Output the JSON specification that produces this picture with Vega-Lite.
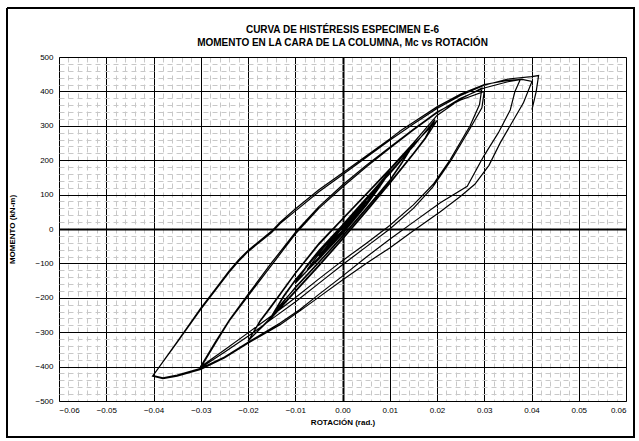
{
  "$schema": "https://vega.github.io/schema/vega-lite/v6.json",
  "width": 567,
  "height": 344,
  "autosize": "none",
  "padding": {"left": 59, "top": 57, "right": 13, "bottom": 40},
  "background": "white",
  "config": {"view": {"stroke": "#808080", "strokeWidth": 1}, "font": "Liberation Sans"},
  "title": {
    "text": ["CURVA DE HISTÉRESIS ESPECIMEN E-6", "MOMENTO EN LA CARA DE LA COLUMNA,  Mc vs ROTACIÓN"],
    "font": "Liberation Sans", "fontSize": 10, "fontWeight": "bold", "color": "black",
    "offset": -40, "lineHeight": 13, "anchor": "middle"
  },
  "data": {"values": [
    {"i":1,"x":0,"y":0},{"i":2,"x":0.0025,"y":38},{"i":3,"x":0.005,"y":78},{"i":4,"x":0.0025,"y":33},{"i":5,"x":0,"y":-6},{"i":6,"x":-0.0025,"y":-42},{"i":7,"x":-0.005,"y":-80},{"i":8,"x":-0.0025,"y":-38},{"i":9,"x":0,"y":4},
    {"i":10,"x":0.0025,"y":40},{"i":11,"x":0.005,"y":82},{"i":12,"x":0.0025,"y":35},{"i":13,"x":0,"y":-4},{"i":14,"x":-0.0025,"y":-40},{"i":15,"x":-0.005,"y":-78},{"i":16,"x":-0.0025,"y":-36},{"i":17,"x":0,"y":6},
    {"i":18,"x":0.004,"y":68},{"i":19,"x":0.0075,"y":122},{"i":20,"x":0.004,"y":58},{"i":21,"x":0,"y":-10},{"i":22,"x":-0.004,"y":-68},{"i":23,"x":-0.0075,"y":-118},{"i":24,"x":-0.004,"y":-55},{"i":25,"x":0,"y":8},
    {"i":26,"x":0.005,"y":85},{"i":27,"x":0.010,"y":165},{"i":28,"x":0.0075,"y":115},{"i":29,"x":0.005,"y":68},{"i":30,"x":0,"y":-14},{"i":31,"x":-0.005,"y":-88},{"i":32,"x":-0.010,"y":-155},{"i":33,"x":-0.0075,"y":-105},{"i":34,"x":-0.005,"y":-62},{"i":35,"x":0,"y":12},
    {"i":36,"x":0.005,"y":88},{"i":37,"x":0.010,"y":168},{"i":38,"x":0.0075,"y":118},{"i":39,"x":0.005,"y":70},{"i":40,"x":0,"y":-12},{"i":41,"x":-0.005,"y":-86},{"i":42,"x":-0.010,"y":-158},{"i":43,"x":-0.0075,"y":-108},{"i":44,"x":-0.005,"y":-64},{"i":45,"x":0,"y":10},
    {"i":46,"x":0.005,"y":88},{"i":47,"x":0.010,"y":160},{"i":48,"x":0.0125,"y":200},{"i":49,"x":0.015,"y":245},{"i":50,"x":0.0125,"y":190},{"i":51,"x":0.010,"y":140},{"i":52,"x":0.005,"y":58},{"i":53,"x":0,"y":-22},{"i":54,"x":-0.005,"y":-98},{"i":55,"x":-0.010,"y":-172},{"i":56,"x":-0.0125,"y":-210},{"i":57,"x":-0.015,"y":-252},{"i":58,"x":-0.0125,"y":-195},{"i":59,"x":-0.010,"y":-148},{"i":60,"x":-0.005,"y":-66},{"i":61,"x":0,"y":12},
    {"i":62,"x":0.005,"y":90},{"i":63,"x":0.010,"y":162},{"i":64,"x":0.0125,"y":202},{"i":65,"x":0.015,"y":248},{"i":66,"x":0.0125,"y":192},{"i":67,"x":0.010,"y":142},{"i":68,"x":0.005,"y":60},{"i":69,"x":0,"y":-20},{"i":70,"x":-0.005,"y":-96},{"i":71,"x":-0.010,"y":-170},{"i":72,"x":-0.0125,"y":-212},{"i":73,"x":-0.015,"y":-255},{"i":74,"x":-0.0125,"y":-198},{"i":75,"x":-0.010,"y":-150},{"i":76,"x":-0.005,"y":-68},{"i":77,"x":0,"y":10},
    {"i":78,"x":0.005,"y":90},{"i":79,"x":0.010,"y":165},{"i":80,"x":0.015,"y":240},{"i":81,"x":0.0196,"y":318},{"i":82,"x":0.0175,"y":265},{"i":83,"x":0.015,"y":220},{"i":84,"x":0.010,"y":135},{"i":85,"x":0.005,"y":52},{"i":86,"x":0,"y":-28},{"i":87,"x":-0.005,"y":-105},{"i":88,"x":-0.010,"y":-180},{"i":89,"x":-0.015,"y":-255},{"i":90,"x":-0.020,"y":-326},
    {"i":91,"x":-0.0175,"y":-270},{"i":92,"x":-0.015,"y":-225},{"i":93,"x":-0.010,"y":-130},{"i":94,"x":-0.005,"y":-45},{"i":95,"x":0,"y":28},{"i":96,"x":0.005,"y":100},{"i":97,"x":0.010,"y":172},{"i":98,"x":0.015,"y":245},{"i":99,"x":0.020,"y":315},
    {"i":100,"x":0.0175,"y":262},{"i":101,"x":0.015,"y":218},{"i":102,"x":0.010,"y":132},{"i":103,"x":0.005,"y":50},{"i":104,"x":0,"y":-30},{"i":105,"x":-0.005,"y":-108},{"i":106,"x":-0.010,"y":-183},{"i":107,"x":-0.015,"y":-258},{"i":108,"x":-0.0198,"y":-322},
    {"i":109,"x":-0.0175,"y":-268},{"i":110,"x":-0.015,"y":-222},{"i":111,"x":-0.010,"y":-128},{"i":112,"x":-0.005,"y":-42},{"i":113,"x":0,"y":30},{"i":114,"x":0.005,"y":102},{"i":115,"x":0.010,"y":175},{"i":116,"x":0.015,"y":250},{"i":117,"x":0.020,"y":330},{"i":118,"x":0.025,"y":378},{"i":119,"x":0.0295,"y":410},
    {"i":120,"x":0.029,"y":362},{"i":121,"x":0.027,"y":300},{"i":122,"x":0.0228,"y":202},{"i":123,"x":0.0192,"y":130},{"i":124,"x":0.015,"y":70},{"i":125,"x":0.010,"y":10},{"i":126,"x":0.005,"y":-42},{"i":127,"x":0,"y":-92},{"i":128,"x":-0.005,"y":-145},{"i":129,"x":-0.010,"y":-200},{"i":130,"x":-0.015,"y":-252},{"i":131,"x":-0.020,"y":-302},{"i":132,"x":-0.025,"y":-352},{"i":133,"x":-0.0301,"y":-401},
    {"i":134,"x":-0.027,"y":-330},{"i":135,"x":-0.0239,"y":-263},{"i":136,"x":-0.020,"y":-190},{"i":137,"x":-0.015,"y":-98},{"i":138,"x":-0.0097,"y":-5},{"i":139,"x":-0.005,"y":65},{"i":140,"x":0,"y":128},{"i":141,"x":0.005,"y":185},{"i":142,"x":0.010,"y":238},{"i":143,"x":0.015,"y":290},{"i":144,"x":0.020,"y":340},{"i":145,"x":0.025,"y":375},{"i":146,"x":0.030,"y":400},
    {"i":147,"x":0.0295,"y":352},{"i":148,"x":0.027,"y":292},{"i":149,"x":0.023,"y":200},{"i":150,"x":0.019,"y":120},{"i":151,"x":0.015,"y":60},{"i":152,"x":0.010,"y":0},{"i":153,"x":0.005,"y":-52},{"i":154,"x":0,"y":-104},{"i":155,"x":-0.005,"y":-158},{"i":156,"x":-0.010,"y":-212},{"i":157,"x":-0.015,"y":-262},{"i":158,"x":-0.020,"y":-312},{"i":159,"x":-0.025,"y":-358},{"i":160,"x":-0.030,"y":-403},
    {"i":161,"x":-0.027,"y":-335},{"i":162,"x":-0.024,"y":-268},{"i":163,"x":-0.020,"y":-195},{"i":164,"x":-0.015,"y":-105},{"i":165,"x":-0.010,"y":-15},{"i":166,"x":-0.005,"y":60},{"i":167,"x":0,"y":122},{"i":168,"x":0.005,"y":180},{"i":169,"x":0.010,"y":235},{"i":170,"x":0.015,"y":288},{"i":171,"x":0.020,"y":338},{"i":172,"x":0.025,"y":380},{"i":173,"x":0.030,"y":410},{"i":174,"x":0.035,"y":428},{"i":175,"x":0.0376,"y":434},
    {"i":176,"x":0.0365,"y":400},{"i":177,"x":0.0355,"y":346},{"i":178,"x":0.033,"y":280},{"i":179,"x":0.0299,"y":212},{"i":180,"x":0.0264,"y":124},{"i":181,"x":0.0207,"y":76},{"i":182,"x":0.015,"y":20},{"i":183,"x":0.010,"y":-30},{"i":184,"x":0.005,"y":-82},{"i":185,"x":0,"y":-137},{"i":186,"x":-0.005,"y":-190},{"i":187,"x":-0.009,"y":-234},{"i":188,"x":-0.0132,"y":-273},{"i":189,"x":-0.020,"y":-329},{"i":190,"x":-0.025,"y":-372},{"i":191,"x":-0.030,"y":-405},{"i":192,"x":-0.035,"y":-425},{"i":193,"x":-0.038,"y":-433},{"i":194,"x":-0.0401,"y":-426},
    {"i":195,"x":-0.035,"y":-328},{"i":196,"x":-0.030,"y":-230},{"i":197,"x":-0.027,"y":-176},{"i":198,"x":-0.024,"y":-122},{"i":199,"x":-0.022,"y":-90},{"i":200,"x":-0.020,"y":-62},{"i":201,"x":-0.015,"y":-6},{"i":202,"x":-0.0132,"y":20},{"i":203,"x":-0.010,"y":58},{"i":204,"x":-0.005,"y":114},{"i":205,"x":0,"y":163},{"i":206,"x":0.005,"y":212},{"i":207,"x":0.010,"y":262},{"i":208,"x":0.0125,"y":288},{"i":209,"x":0.015,"y":310},{"i":210,"x":0.020,"y":355},{"i":211,"x":0.025,"y":392},{"i":212,"x":0.030,"y":420},{"i":213,"x":0.035,"y":432},{"i":214,"x":0.038,"y":435},{"i":215,"x":0.0401,"y":429},
    {"i":216,"x":0.0383,"y":367},{"i":217,"x":0.0334,"y":251},{"i":218,"x":0.031,"y":185},{"i":219,"x":0.028,"y":130},{"i":220,"x":0.025,"y":95},{"i":221,"x":0.0207,"y":50},{"i":222,"x":0.015,"y":-5},{"i":223,"x":0.010,"y":-55},{"i":224,"x":0.005,"y":-100},{"i":225,"x":0,"y":-148},{"i":226,"x":-0.005,"y":-198},{"i":227,"x":-0.009,"y":-238},{"i":228,"x":-0.0132,"y":-278},{"i":229,"x":-0.020,"y":-332},{"i":230,"x":-0.025,"y":-375},{"i":231,"x":-0.030,"y":-408},{"i":232,"x":-0.035,"y":-428},{"i":233,"x":-0.038,"y":-435},{"i":234,"x":-0.0402,"y":-428},
    {"i":235,"x":-0.035,"y":-330},{"i":236,"x":-0.030,"y":-234},{"i":237,"x":-0.027,"y":-180},{"i":238,"x":-0.024,"y":-126},{"i":239,"x":-0.022,"y":-94},{"i":240,"x":-0.020,"y":-66},{"i":241,"x":-0.015,"y":-10},{"i":242,"x":-0.0132,"y":16},{"i":243,"x":-0.010,"y":52},{"i":244,"x":-0.005,"y":108},{"i":245,"x":0,"y":158},{"i":246,"x":0.005,"y":208},{"i":247,"x":0.010,"y":258},{"i":248,"x":0.015,"y":305},{"i":249,"x":0.020,"y":350},{"i":250,"x":0.025,"y":388},{"i":251,"x":0.030,"y":418},{"i":252,"x":0.035,"y":436},{"i":253,"x":0.040,"y":443},{"i":254,"x":0.0415,"y":446},{"i":255,"x":0.041,"y":400},{"i":256,"x":0.0401,"y":347}
  ]},
  "layer": [
    {
      "mark": {"type": "line", "opacity": 0},
      "encoding": {
        "x": {"field": "x", "type": "quantitative", "scale": {"domain": [-0.06, 0.06], "nice": false},
              "axis": {"orient": "bottom", "values": [-0.058,-0.056,-0.054,-0.052,-0.048,-0.046,-0.044,-0.042,-0.038,-0.036,-0.034,-0.032,-0.028,-0.026,-0.024,-0.022,-0.018,-0.016,-0.014,-0.012,-0.008,-0.006,-0.004,-0.002,0.002,0.004,0.006,0.008,0.012,0.014,0.016,0.018,0.022,0.024,0.026,0.028,0.032,0.034,0.036,0.038,0.042,0.044,0.046,0.048,0.052,0.054,0.056,0.058],
                       "labels": false, "ticks": false, "domain": false, "title": null, "grid": true, "gridColor": "#c8c8c8", "gridDash": [5, 4], "gridWidth": 1}},
        "y": {"field": "y", "type": "quantitative", "scale": {"domain": [-500, 500], "nice": false},
              "axis": {"orient": "left", "values": [-480,-460,-440,-420,-380,-360,-340,-320,-280,-260,-240,-220,-180,-160,-140,-120,-80,-60,-40,-20,20,40,60,80,120,140,160,180,220,240,260,280,320,340,360,380,420,440,460,480],
                       "labels": false, "ticks": false, "domain": false, "title": null, "grid": true, "gridColor": "#c8c8c8", "gridDash": [5, 4], "gridWidth": 1}},
        "order": {"field": "i", "type": "quantitative"}
      }
    },
    {
      "mark": {"type": "line", "color": "black", "strokeWidth": 1.2},
      "encoding": {
        "x": {"field": "x", "type": "quantitative", "scale": {"domain": [-0.06, 0.06], "nice": false},
              "axis": {"orient": "bottom", "values": [-0.06,-0.05,-0.04,-0.03,-0.02,-0.01,0,0.01,0.02,0.03,0.04,0.05,0.06], "format": ".2f",
                       "ticks": false, "domain": false, "labelPadding": 5, "labelFont": "Liberation Sans", "labelFontSize": 8, "labelColor": "black",
                       "grid": true, "gridColor": "black", "gridWidth": {"condition": {"test": "datum.value === 0", "value": 2}, "value": 1},
                       "title": "ROTACIÓN (rad.)", "titleFont": "Liberation Sans", "titleFontSize": 8, "titleFontWeight": "bold", "titleColor": "black", "titlePadding": 4}},
        "y": {"field": "y", "type": "quantitative", "scale": {"domain": [-500, 500], "nice": false},
              "axis": {"orient": "left", "values": [-500,-400,-300,-200,-100,0,100,200,300,400,500], "format": "d",
                       "ticks": false, "domain": false, "labelPadding": 6, "labelFont": "Liberation Sans", "labelFontSize": 8, "labelColor": "black",
                       "grid": true, "gridColor": "black", "gridWidth": {"condition": {"test": "datum.value === 0", "value": 2}, "value": 1},
                       "title": "MOMENTO (kN-m)", "titleFont": "Liberation Sans", "titleFontSize": 8, "titleFontWeight": "bold", "titleColor": "black", "titlePadding": 18}},
        "order": {"field": "i", "type": "quantitative"}
      }
    },
    {
      "mark": {"type": "rect", "fill": null, "fillOpacity": 0, "stroke": "black", "strokeWidth": 1, "clip": false},
      "encoding": {
        "x": {"datum": -0.0710, "type": "quantitative", "axis": null},
        "x2": {"datum": 0.0617},
        "y": {"datum": 642, "type": "quantitative", "axis": null},
        "y2": {"datum": -605}
      }
    }
  ],
  "resolve": {"axis": {"x": "independent", "y": "independent"}}
}
